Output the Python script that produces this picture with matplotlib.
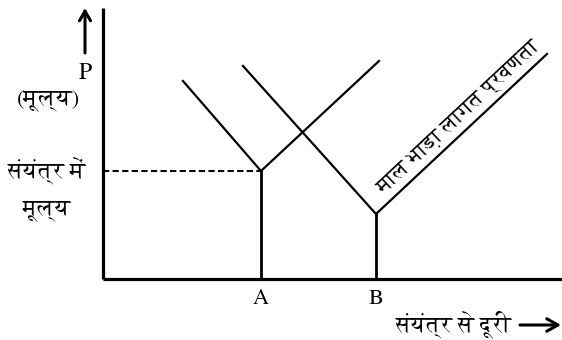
import matplotlib
matplotlib.use("Agg")
import matplotlib.pyplot as plt
from matplotlib.patches import FancyArrowPatch
import numpy as np

# ---- data (distance from origin, price) ----
plants = ["A", "B"]
plant_x = [158, 273]          # plant locations on distance axis
plant_price = [108, 65]       # price at plant
left_x = [80, 140]            # start of left arm (freight cost gradient)
left_y = [198, 213]
right_x = [276, 444]          # end of right arm
right_y = [218, 225]

y_label_top = "P"
y_label_paren = "(मूल्य)"
plant_price_label = ["संयंत्र में", "मूल्य"]
x_label = "संयंत्र से दूरी"
gradient_label = "माल भाड़ा लागत प्रवणता"

W, H = 562, 340
fig = plt.figure(figsize=(W / 100, H / 100), dpi=100)
ox, oy = 103, 279
ax = fig.add_axes([ox / W, (H - oy) / H, (W - ox) / W, (oy - 8) / H])
ax.set_xlim(0, W - ox)
ax.set_ylim(0, oy - 8)
for s in ["top", "right"]:
    ax.spines[s].set_visible(False)
for s in ["left", "bottom"]:
    ax.spines[s].set_linewidth(2.3)
    ax.spines[s].set_capstyle("butt")
ax.set_xticks([])
ax.set_yticks([])
ax.patch.set_alpha(0)

fam = ["FreeSerif", "DejaVu Sans"]
lw = 1.6
for i in range(len(plants)):
    px, py = plant_x[i], plant_price[i]
    ax.plot([left_x[i], px, right_x[i]], [left_y[i], py, right_y[i]],
            color="black", lw=lw, solid_joinstyle="miter")
    ax.plot([px, px], [0, py], color="black", lw=2.0)
    ax.text(px, -10, plants[i], ha="center", va="top", fontsize=16,
            family=fam)

# dashed line to plant A price
ax.plot([0, plant_x[0]], [plant_price[0], plant_price[0]], color="black",
        lw=1.5, linestyle=(0, (3, 1.6)))

# rotated gradient label above B's right arm
t = 0.545
mx = plant_x[1] + t * (right_x[1] - plant_x[1])
my = plant_price[1] + t * (right_y[1] - plant_price[1])
ang = np.degrees(np.arctan2(right_y[1] - plant_price[1], right_x[1] - plant_x[1]))
off = 2.5
ax.annotate(gradient_label, xy=(mx, my),
            xytext=(-off * np.sin(np.radians(ang)), off * np.cos(np.radians(ang))),
            textcoords="offset points", rotation=ang, rotation_mode="anchor",
            ha="center", va="bottom", fontsize=15, family=fam)

# left-side labels (figure pixel coords)
def ftxt(x, y, s, **kw):
    fig.text(x / W, 1 - y / H, s, ha="center", va="center", family=fam, **kw)

ftxt(85, 73, y_label_top, fontsize=17)
ftxt(48, 101, y_label_paren, fontsize=16)
ftxt(47, 171, plant_price_label[0], fontsize=16)
ftxt(47, 211, plant_price_label[1], fontsize=16)

# up arrow
fig.add_artist(FancyArrowPatch(
    (85 / W, 1 - 53 / H), (85 / W, 1 - 8 / H), transform=fig.transFigure,
    arrowstyle="->,head_length=7,head_width=4", mutation_scale=1,
    color="black", lw=2.2, shrinkA=0, shrinkB=0))

# x label with arrow
fig.text(454 / W, 1 - 325 / H, x_label, ha="center", va="center",
         family=fam, fontsize=16)
fig.add_artist(FancyArrowPatch(
    (520 / W, 1 - 325 / H), (561 / W, 1 - 325 / H), transform=fig.transFigure,
    arrowstyle="->,head_length=8,head_width=4.5", mutation_scale=1,
    color="black", lw=2.2, shrinkA=0, shrinkB=0))

fig.savefig("out.png", dpi=100)
